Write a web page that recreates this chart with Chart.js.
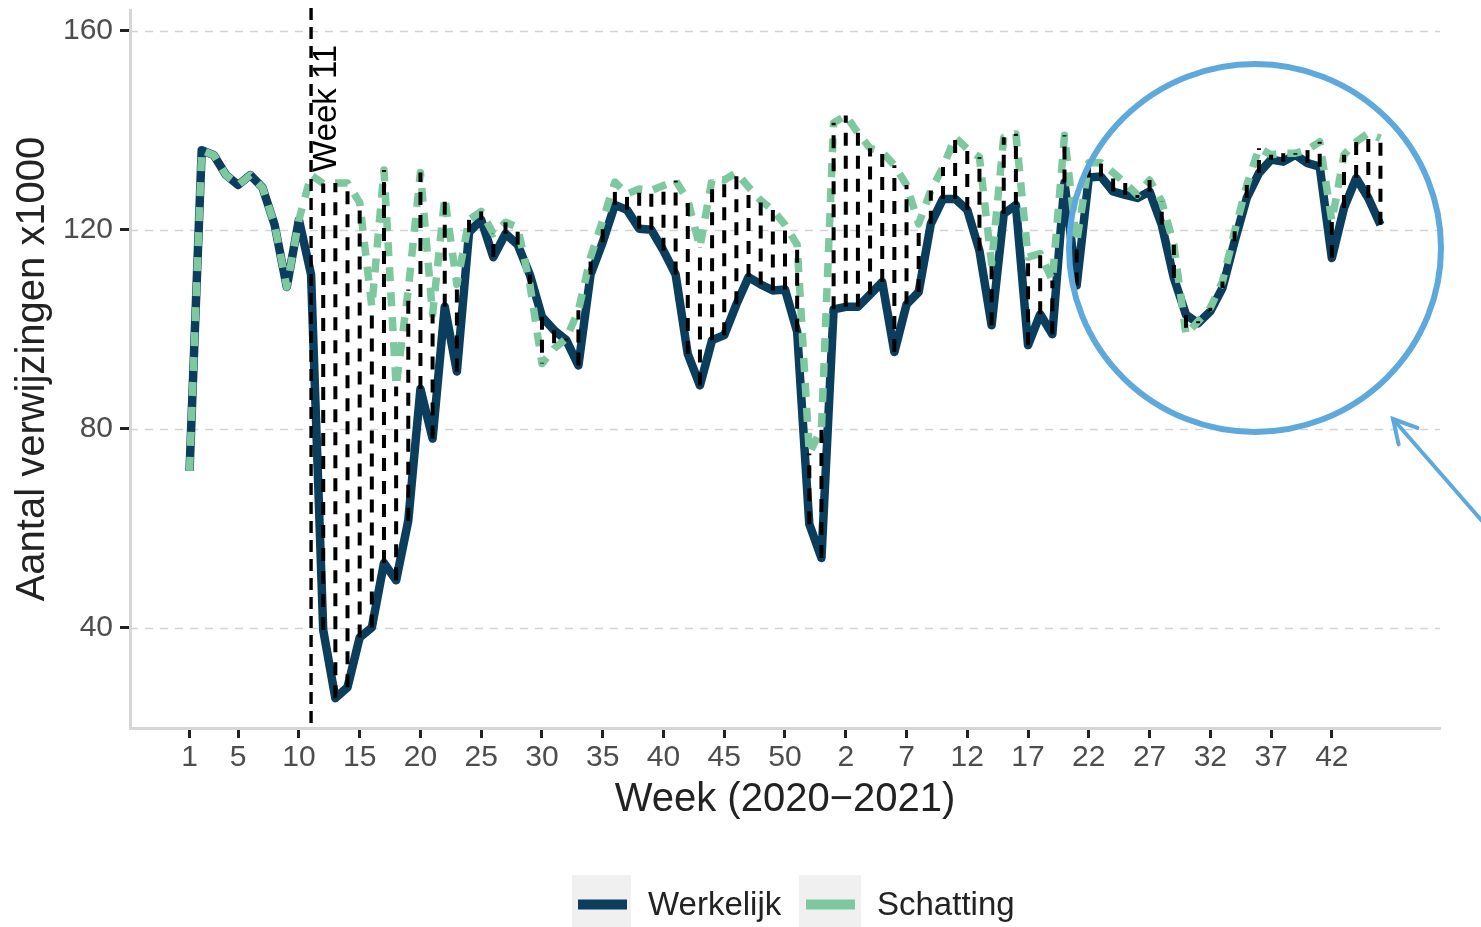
<!DOCTYPE html>
<html><head><meta charset="utf-8">
<script src="https://cdn.jsdelivr.net/npm/chart.js@4/dist/chart.umd.min.js"></script>
<style>html,body{margin:0;padding:0;background:#fff;overflow:hidden}canvas{display:block}</style>
</head><body>
<canvas id="c" width="1481" height="927"></canvas>
<script>
// ---- data ----
const weeks = [
  "1","2","3","4","5","6","7","8","9","10","11","12","13","14","15","16","17","18","19","20",
  "21","22","23","24","25","26","27","28","29","30","31","32","33","34","35","36","37","38","39","40",
  "41","42","43","44","45","46","47","48","49","50","51","52","53",
  "1","2","3","4","5","6","7","8","9","10","11","12","13","14","15","16","17","18","19","20",
  "21","22","23","24","25","26","27","28","29","30","31","32","33","34","35","36","37","38","39","40",
  "41","42","43","44","45","46"
];
const werkelijk = [
  71.5,136,135,131,129,131,128.5,121,108.5,122,
  111,39.5,25.8,28,38,40,53,49.5,61.5,88,
  78,104.5,91.5,119.5,122,114.5,119.2,117,111,102.5,
  99.8,97.8,92.7,111,117.5,125,124,120.2,120,115.8,
  111,95,88.7,97.8,98.8,105,110.5,109,107.8,108,
  99.5,60.8,54,
  104,104.5,104.5,107,109.5,95.4,105,107.5,121.2,126.2,
  126.2,124,115.8,100.8,123.2,125,96.8,103,99,129.5,
  108.8,130.5,130.7,127.7,127,126.4,127.7,121,110.3,102.9,
  101.2,103.6,108.3,117.7,126.4,131.4,134.1,133.7,135.1,133.4,
  132.7,114.3,124.4,130.4,126.4,121
];
const schatting = [
  71.5,136,135,131,129,131,128.5,121,108.5,122,
  131,129.3,129.4,129.4,125.5,104.5,132,88.5,108,131.5,
  103,126.5,109,122,123.7,119.2,121.5,120.5,109.1,93.1,
  96.1,98.1,103.8,114.5,121.9,129.6,127.2,128.2,127.9,128.9,
  129.9,125.9,116.5,130.2,130,131.5,128.6,125.9,124,121,
  117,75,80,
  141.5,143,139.5,136.4,135.6,133,129,121.2,127.9,132.6,
  138.6,136.3,134.6,113.2,138.6,139.3,114.5,115.2,109.8,139,
  117.5,133.5,133.5,131.5,129.4,127,130,125.7,117,98.9,
  101.6,104.3,109.6,119.7,129,136.4,135.1,135.4,135.4,136.1,
  137.7,121.7,135.1,137.7,139.4,138.4
];
const tickLabels = ["1","5","10","15","20","25","30","35","40","45","50","2","7","12","17","22","27","32","37","42"];
const yTicks = [40, 80, 120, 160];
const seriesNames = ["Werkelijk", "Schatting"];
const markerWeek = "11";
const markerLabel = "Week 11";
const xTitle = "Week (2020\u22122021)";
const yTitle = "Aantal verwijzingen x1000";

// ---- styling ----
const NAVY = "#0b3d5c";
const GREEN = "#7ec8a0";
const FONT = "'Liberation Sans', Arial, sans-serif";
Chart.defaults.font.family = FONT;

// tick positions: match tick labels in order along the week sequence
const tickIdx = [];
(function(){ let k = 0; for (let i = 0; i < weeks.length && k < tickLabels.length; i++) { if (weeks[i] === tickLabels[k]) { tickIdx.push(i); k++; } } })();
const markerIdx = weeks.indexOf(markerWeek);

const toPts = arr => arr.map((v, i) => ({x: i, y: v}));

const gridPlugin = {
  id: 'gridPlugin',
  beforeDatasetsDraw(chart) {
    const {ctx, chartArea: a, scales: {y}} = chart;
    ctx.save();
    ctx.strokeStyle = '#d3d3d3'; ctx.lineWidth = 1.6; ctx.setLineDash([8, 7]);
    yTicks.forEach(v => {
      const py = Math.round(y.getPixelForValue(v)) + 0.5;
      ctx.beginPath(); ctx.moveTo(a.left, py); ctx.lineTo(a.right, py); ctx.stroke();
    });
    ctx.restore();
  }
};

const hatchPlugin = {
  id: 'hatchPlugin',
  afterDatasetsDraw(chart) {
    const {ctx, chartArea: a, scales: {x, y}} = chart;
    ctx.save();
    ctx.strokeStyle = '#000'; ctx.lineWidth = 4; ctx.setLineDash([13, 10]); ctx.lineCap = 'butt';
    for (let i = markerIdx + 1; i < weeks.length; i++) {
      const px = x.getPixelForValue(i);
      const y1 = y.getPixelForValue(werkelijk[i]);
      const y2 = y.getPixelForValue(schatting[i]);
      if (Math.abs(y1 - y2) < 1) continue;
      ctx.beginPath(); ctx.moveTo(px, y1); ctx.lineTo(px, y2); ctx.stroke();
    }
    // marker line
    const mx = x.getPixelForValue(markerIdx);
    ctx.lineWidth = 3.4; ctx.setLineDash([12, 7]);
    ctx.beginPath(); ctx.moveTo(mx, a.top - 2); ctx.lineTo(mx, a.bottom); ctx.stroke();
    ctx.setLineDash([]);
    // marker label
    ctx.translate(mx + 25, a.top + 162);
    ctx.rotate(-Math.PI / 2);
    ctx.fillStyle = '#000';
    ctx.font = '33px ' + FONT;
    ctx.textAlign = 'left'; ctx.textBaseline = 'alphabetic';
    ctx.fillText(markerLabel, 0, 0);
    ctx.restore();
  }
};

const overlayPlugin = {
  id: 'overlayPlugin',
  afterDraw(chart) {
    const ctx = chart.ctx;
    ctx.save();
    // highlight circle
    ctx.strokeStyle = '#5ea9dc'; ctx.lineWidth = 6;
    ctx.beginPath(); ctx.ellipse(1255, 248, 186, 184, 0, 0, Math.PI * 2); ctx.stroke();
    // arrow
    ctx.lineWidth = 4; ctx.lineCap = 'round';
    const tx = 1393, ty = 419;
    ctx.beginPath(); ctx.moveTo(1483, 522); ctx.lineTo(tx, ty); ctx.stroke();
    const ang = Math.atan2(522 - ty, 1483 - tx);
    const L = 26, sp = 0.5;
    ctx.beginPath();
    ctx.moveTo(tx + L * Math.cos(ang - sp), ty + L * Math.sin(ang - sp));
    ctx.lineTo(tx, ty);
    ctx.lineTo(tx + L * Math.cos(ang + sp), ty + L * Math.sin(ang + sp));
    ctx.stroke();
    // legend
    ctx.lineCap = 'butt';
    ctx.fillStyle = '#f0f0f0';
    ctx.fillRect(572, 875, 59, 52);
    ctx.fillRect(799, 875, 62, 52);
    ctx.lineWidth = 10;
    ctx.strokeStyle = NAVY; ctx.beginPath(); ctx.moveTo(578, 904.5); ctx.lineTo(627, 904.5); ctx.stroke();
    ctx.strokeStyle = GREEN; ctx.beginPath(); ctx.moveTo(806, 904.5); ctx.lineTo(855, 904.5); ctx.stroke();
    ctx.fillStyle = '#222'; ctx.font = '33px ' + FONT; ctx.textBaseline = 'alphabetic'; ctx.textAlign = 'left';
    ctx.fillText(seriesNames[0], 648, 915);
    ctx.fillText(seriesNames[1], 877, 915);
    ctx.restore();
  }
};

new Chart(document.getElementById('c'), {
  type: 'line',
  data: {
    datasets: [
      { label: seriesNames[0], data: toPts(werkelijk), borderColor: NAVY, backgroundColor: NAVY,
        borderWidth: 8.5, pointRadius: 0, tension: 0, borderJoinStyle: 'round', order: 2 },
      { label: seriesNames[1], data: toPts(schatting), borderColor: GREEN, backgroundColor: GREEN,
        borderWidth: 7.5, borderDash: [14, 11], pointRadius: 0, tension: 0, borderJoinStyle: 'round', order: 1 }
    ]
  },
  options: {
    responsive: false,
    animation: false,
    events: [],
    layout: { padding: { top: 10, right: 41, left: 0, bottom: 0 } },
    plugins: { legend: { display: false }, tooltip: { enabled: false } },
    scales: {
      x: {
        type: 'linear', min: -4.9, max: 102.9,
        afterBuildTicks: s => { s.ticks = tickIdx.map(v => ({ value: v })); },
        afterFit: s => { s.height = 199; s.paddingLeft = 0; s.paddingRight = 0; },
        ticks: {
          autoSkip: false, maxRotation: 0, minRotation: 0, padding: 2,
          color: '#4d4d4d', font: { size: 30 },
          callback: (v) => { const k = tickIdx.indexOf(v); return k >= 0 ? tickLabels[k] : ''; }
        },
        grid: { display: true, drawOnChartArea: false, drawTicks: true, tickLength: 10, tickColor: '#222', tickWidth: 3 },
        border: { display: true, color: '#d6d6d6', width: 3 },
        title: { display: true, text: xTitle, color: '#222', font: { size: 40 }, padding: { top: 0, bottom: 103 } }
      },
      y: {
        type: 'linear', min: 19.8, max: 164.2,
        afterBuildTicks: s => { s.ticks = yTicks.map(v => ({ value: v })); },
        afterFit: s => { s.width = 130; s.paddingTop = 0; s.paddingBottom = 0; },
        ticks: { padding: 7, color: '#4d4d4d', font: { size: 30 } },
        grid: { display: true, drawOnChartArea: false, drawTicks: true, tickLength: 10, tickColor: '#222', tickWidth: 3 },
        border: { display: true, color: '#d6d6d6', width: 3 },
        title: { display: true, text: yTitle, color: '#222', font: { size: 40 }, padding: { top: 9, bottom: 0 } }
      }
    }
  },
  plugins: [gridPlugin, hatchPlugin, overlayPlugin]
});
</script>
</body></html>
